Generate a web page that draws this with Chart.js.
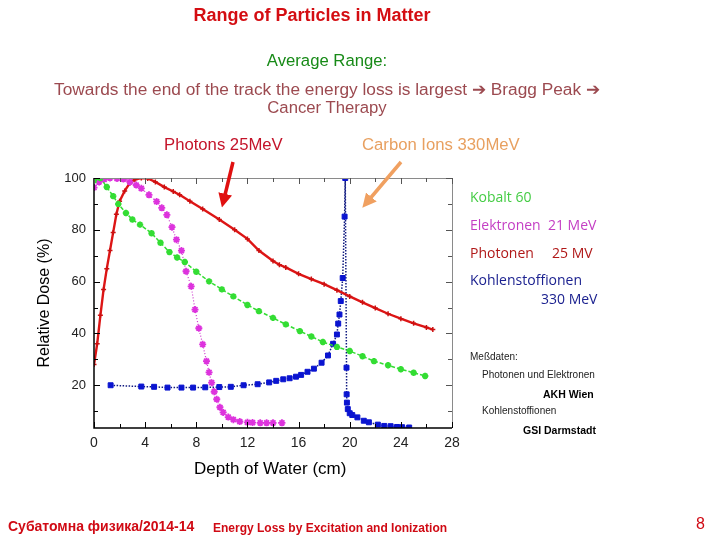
<!DOCTYPE html>
<html><head><meta charset="utf-8">
<script src="https://cdn.jsdelivr.net/npm/chart.js@4/dist/chart.umd.min.js"></script>
<style>
html,body{margin:0;padding:0;background:#fff;width:720px;height:540px;overflow:hidden;font-family:"Liberation Sans",Arial,sans-serif;}
#wrap{position:relative;width:720px;height:540px;}
canvas{position:absolute;left:0;top:0;}
.t{position:absolute;white-space:nowrap;line-height:1;}
.lg{position:absolute;white-space:nowrap;line-height:1;font-family:"Open Sans",sans-serif;font-size:14px;}
.sm{position:absolute;white-space:nowrap;line-height:1;font-family:"Liberation Sans",Arial,sans-serif;font-size:10px;color:#222;}
svg{position:absolute;left:0;top:0;}
</style></head><body>
<div id="wrap">
<canvas id="c" width="720" height="540"></canvas>
<svg width="720" height="540">
  <defs>
    <marker id="ar" markerWidth="4" markerHeight="4" refX="1.5" refY="2" orient="auto"><path d="M0,0 L4,2 L0,4 z" fill="#e01010"/></marker>
    <marker id="ao" markerWidth="4" markerHeight="4" refX="1.5" refY="2" orient="auto"><path d="M0,0 L4,2 L0,4 z" fill="#f0a060"/></marker>
  </defs>
  <line x1="233" y1="162" x2="224" y2="199" stroke="#e01010" stroke-width="3.5" marker-end="url(#ar)"/>
  <line x1="401" y1="162" x2="368" y2="201" stroke="#f0a060" stroke-width="3.5" marker-end="url(#ao)"/>
</svg>
<div class="t" style="left:0;width:624px;text-align:center;top:6px;font-size:18px;font-weight:bold;color:#d40d12;">Range of Particles in Matter</div>
<div class="t" style="left:0;width:654px;text-align:center;top:53px;font-size:16.7px;color:#178a17;">Average Range:</div>
<div class="t" style="left:0;width:654px;text-align:center;top:81px;font-size:17.3px;color:#9c4a50;">Towards the end of the track the energy loss is largest ➔ Bragg Peak ➔</div>
<div class="t" style="left:0;width:654px;text-align:center;top:100px;font-size:16.7px;color:#9c4a50;">Cancer Therapy</div>
<div class="t" style="left:164px;top:137px;font-size:16.7px;color:#c4142a;">Photons 25MeV</div>
<div class="t" style="left:362px;top:137px;font-size:16.7px;color:#e8a060;">Carbon Ions 330MeV</div>
<div class="t" style="left:44px;top:303px;font-size:16px;color:#000;transform:translate(-50%,-50%) rotate(-90deg);transform-origin:center;position:absolute;">Relative Dose (%)</div>
<div class="t" style="left:194px;top:460px;font-size:17px;color:#000;">Depth of Water (cm)</div>
<div class="lg" style="left:470px;top:190px;color:#44cc44;">Kobalt 60</div>
<div class="lg" style="left:470px;top:218px;color:#c43ec4;">Elektronen&nbsp; 21 MeV</div>
<div class="lg" style="left:470px;top:246px;color:#b01818;">Photonen&nbsp;&nbsp;&nbsp;&nbsp; 25 MV</div>
<div class="lg" style="left:470px;top:273px;color:#1c2290;">Kohlenstoffionen</div>
<div class="lg" style="left:541px;top:292px;color:#1c2290;">330 MeV</div>
<div class="sm" style="left:470px;top:352px;">Meßdaten:</div>
<div class="sm" style="left:482px;top:370px;">Photonen und Elektronen</div>
<div class="sm" style="left:543px;top:389px;font-weight:bold;color:#000;font-size:10.5px;">AKH Wien</div>
<div class="sm" style="left:482px;top:406px;">Kohlenstoffionen</div>
<div class="sm" style="left:523px;top:425px;font-weight:bold;color:#000;font-size:10.5px;">GSI Darmstadt</div>
<div class="t" style="left:8px;top:519px;font-size:14px;font-weight:bold;color:#d00a14;">Субатомна физика/2014-14</div>
<div class="t" style="left:213px;top:522px;font-size:12px;font-weight:bold;color:#d00a14;">Energy Loss by Excitation and Ionization</div>
<div class="t" style="left:696px;top:516px;font-size:16px;color:#d00a14;">8</div>
</div>
<script>
// ---- data ----
const xTicks = [0, 4, 8, 12, 16, 20, 24, 28];
const yTicks = [20, 40, 60, 80, 100];

const photonX = [0,0.25,0.5,0.75,1.0,1.25,1.5,1.75,2.0,2.4,2.8,3.2,3.7,4.2,4.8,5.5,6.2,6.7,7.5,8.5,9.8,11,12,12.9,14,14.5,15,16,17,18,19,20,21,22,23,24,25,26,26.5];
const photonY = [28,36,47,57,65,72,79,86,91,95,98,99.4,100,99.8,98.5,96.5,94.8,93.5,91,88,84,80,76.5,72,68,66.5,65.5,63,61,59,56.7,54.3,52,49.8,47.6,45.7,43.9,42.3,41.5];

const cobaltX = [0,0.5,1.0,1.5,1.9,2.5,3.0,3.6,4.5,5.2,5.9,6.5,7.1,8,9,10,10.9,12,12.9,14,15,16.1,17,17.9,19,20,21,21.9,23,24,25,25.9];
const cobaltY = [99,100,96.5,93,90,86.5,84,82,78.7,75,71.4,69.3,67.6,63.8,60.1,57,54.3,51,48.6,46,43.5,40.9,38.8,36.7,34.8,33.2,31.2,29.3,27.7,26.2,24.8,23.6];

const electronX = [0,0.4,0.8,1.25,1.8,2.3,2.8,3.3,3.7,4.3,4.9,5.3,5.7,6.1,6.45,6.84,7.2,7.6,7.9,8.2,8.5,8.8,9.0,9.2,9.4,9.6,9.85,10.1,10.5,10.9,11.4,12.0,12.4,13,13.5,14,14.7];
const electronY = [96.3,98.5,99.5,100,99.8,99.6,98.5,97.3,96,93.5,90.9,88.5,85.8,81,76.2,72,64,58.2,49.2,42,35.8,29.3,25,21,17.5,14.6,11.5,9.5,7.7,6.7,6.0,5.7,5.6,5.5,5.5,5.5,5.5];

const carbonX = [1.3,3.7,4.7,5.75,6.84,7.75,8.7,9.8,10.7,11.7,12.8,13.7,14.25,14.8,15.3,15.8,16.2,16.7,17.2,17.8,18.3,18.7,19.0,19.1,19.2,19.3,19.45,19.6,19.65,19.75,19.76,19.78,19.85,20,20.2,20.6,21.1,21.5,22.2,22.7,23.2,23.7,24.1,24.65];
const carbonY = [20,19.5,19.4,19.1,19.1,19.1,19.2,19.3,19.4,20,20.4,21.1,21.7,22.3,22.7,23.3,24,25.2,26.4,28.7,31.5,36,39.6,43.8,47.3,52.5,61.4,85.1,100,26.8,16.5,13.3,10.8,9.2,8.5,7.6,6.3,5.7,4.8,4.3,4.2,3.9,3.8,3.7];

const pts = (xs, ys) => xs.map((x, i) => ({x, y: ys[i]}));

const framePlugin = {
  id: 'frame',
  afterDraw(chart) {
    const {ctx, chartArea: a, scales: {x, y}} = chart;
    ctx.save();
    ctx.strokeStyle = '#8a8a8a'; ctx.lineWidth = 1;
    ctx.beginPath();
    ctx.moveTo(a.left, a.top + 0.5); ctx.lineTo(a.right + 0.5, a.top + 0.5); ctx.lineTo(a.right + 0.5, a.bottom);
    ctx.stroke();
    ctx.strokeStyle = '#000'; ctx.lineWidth = 1.5;
    ctx.beginPath();
    ctx.moveTo(a.left, a.top); ctx.lineTo(a.left, a.bottom); ctx.lineTo(a.right, a.bottom);
    ctx.stroke();
    ctx.lineWidth = 1;
    for (let v = x.min; v <= x.max; v += 2) {
      const px = Math.round(x.getPixelForValue(v)) + 0.5, len = v % 4 === 0 ? 6 : 4;
      ctx.strokeStyle = '#000';
      ctx.beginPath(); ctx.moveTo(px, a.bottom); ctx.lineTo(px, a.bottom - len); ctx.stroke();
      ctx.strokeStyle = '#555';
      ctx.beginPath(); ctx.moveTo(px, a.top); ctx.lineTo(px, a.top + len); ctx.stroke();
    }
    for (let v = 10; v <= 100; v += 10) {
      const py = Math.round(y.getPixelForValue(v)) + 0.5, len = v % 20 === 0 ? 6 : 4;
      ctx.strokeStyle = '#000';
      ctx.beginPath(); ctx.moveTo(a.left, py); ctx.lineTo(a.left + len, py); ctx.stroke();
      ctx.strokeStyle = '#555';
      ctx.beginPath(); ctx.moveTo(a.right, py); ctx.lineTo(a.right - len, py); ctx.stroke();
    }
    ctx.restore();
  }
};

new Chart(document.getElementById('c'), {
  type: 'scatter',
  data: {
    datasets: [
      {label: 'Kobalt 60', data: pts(cobaltX, cobaltY), showLine: true, borderColor: '#33dd33', borderWidth: 1.5, borderDash: [4, 2],
       pointStyle: 'star', pointRadius: 3.2, pointBorderWidth: 2, pointBorderColor: '#33dd33', pointBackgroundColor: '#33dd33'},
      {label: 'Elektronen 21 MeV', data: pts(electronX, electronY), showLine: true, borderColor: '#cc33cc', borderWidth: 1.2, borderDash: [1, 2],
       pointStyle: 'star', pointRadius: 3.5, pointBorderWidth: 1.8, pointBorderColor: '#dd33dd', pointBackgroundColor: '#dd33dd'},
      {label: 'Photonen 25 MV', data: pts(photonX, photonY), showLine: true, borderColor: '#dd1515', borderWidth: 2.4,
       pointStyle: 'cross', pointRadius: 2.5, pointBorderWidth: 1.5, pointBorderColor: '#cc1010', pointBackgroundColor: '#cc1010'},
      {label: 'Kohlenstoffionen 330 MeV', data: pts(carbonX, carbonY), showLine: true, borderColor: '#101a80', borderWidth: 1.5, borderDash: [1.5, 1.5],
       pointStyle: 'rect', pointRadius: 3.5, pointBorderWidth: 1, pointBorderColor: '#0a14d0', pointBackgroundColor: '#0a14d0'}
    ]
  },
  options: {
    responsive: false, animation: false, devicePixelRatio: 1,
    layout: {padding: {left: 54, top: 178, right: 268, bottom: 72}},
    plugins: {legend: {display: false}, tooltip: {enabled: false}},
    scales: {
      x: {type: 'linear', min: 0, max: 28,
          afterBuildTicks: s => { s.ticks = xTicks.map(v => ({value: v})); },
          afterFit: s => { s.height = 40; },
          grid: {display: false, drawTicks: false}, border: {display: false},
          ticks: {padding: 7, color: '#222', font: {family: '"Liberation Sans", Arial', size: 14}}},
      y: {type: 'linear', min: 3.5, max: 100,
          afterBuildTicks: s => { s.ticks = yTicks.map(v => ({value: v})); },
          afterFit: s => { s.width = 40; },
          grid: {display: false, drawTicks: false}, border: {display: false},
          ticks: {padding: 8, color: '#222', font: {family: '"Liberation Sans", Arial', size: 13}}}
    }
  },
  plugins: [framePlugin]
});
</script>
</body></html>
